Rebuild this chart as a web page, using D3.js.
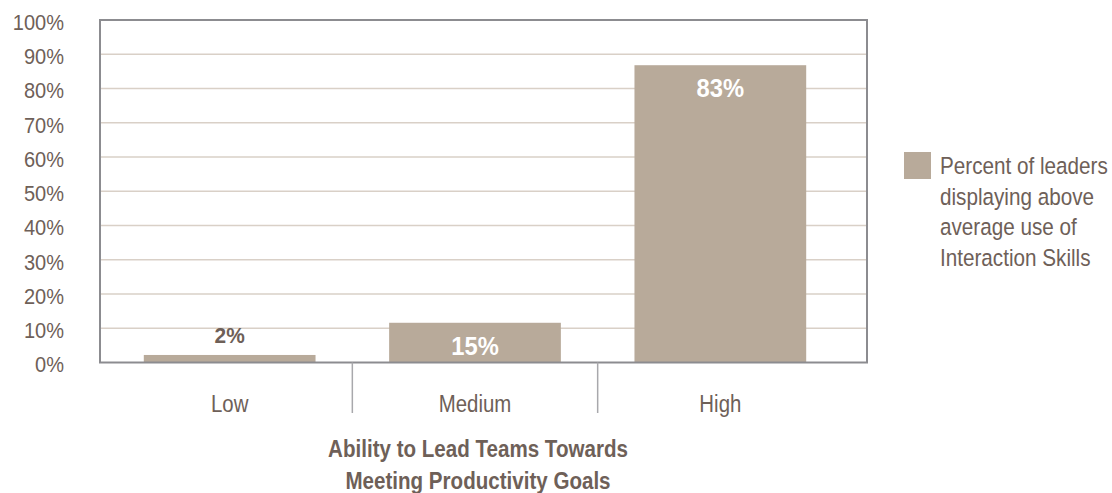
<!DOCTYPE html>
<html>
<head>
<meta charset="utf-8">
<script src="https://cdn.jsdelivr.net/npm/d3@7"></script>
<style>
	body { margin: 0; background: #fff; }
	text { font-family: "Liberation Sans", Arial, sans-serif; }
</style>
</head>
<body>
<div class="canva"></div>
<script>
// data
const categories = ["Low", "Medium", "High"];
const barValues = [2.2, 11.6, 86.8]; // bar heights as drawn
const barLabels = ["2%", "15%", "83%"]; // labels as printed
const yTicks = [0, 10, 20, 30, 40, 50, 60, 70, 80, 90, 100];
const legendLines = ["Percent of leaders", "displaying above", "average use of", "Interaction Skills"];
const titleLines = ["Ability to Lead Teams Towards", "Meeting Productivity Goals"];

const textColor = "#6e6058";
const barColor = "#b8aa9a";
const axisColor = "#8c8c90";
const gridColor = "#d9d0c7";

const svg = d3.select(".canva")
	.append("svg")
	.attr("width", 1112)
	.attr("height", 493);

const frame = { left: 100, right: 867, top: 20, bottom: 362.5 };

const y = d3.scaleLinear().domain([0, 100]).range([frame.bottom, frame.top]);
const x = d3.scaleBand().domain(categories).range([107, 843]).paddingInner(0.3).paddingOuter(0.15);

// the source font is a narrow one, so squeeze text horizontally
function place(sel, fx, fy, sx) {
	sel.attr("transform", (d, i) => `translate(${fx(d, i)},${fy(d, i)}) scale(${sx},1)`);
}

// gridlines
svg.append("g")
	.selectAll("line")
	.data(yTicks.filter((d) => d > 0 && d < 100))
	.enter()
	.append("line")
	.attr("x1", frame.left)
	.attr("x2", frame.right)
	.attr("y1", (d) => y(d))
	.attr("y2", (d) => y(d))
	.attr("stroke", gridColor)
	.attr("stroke-width", 1.5);

// y tick labels
svg.append("g")
	.selectAll("text")
	.data(yTicks)
	.enter()
	.append("text")
	.call(place, () => 64, (d) => y(d) + 2, 0.89)
	.attr("dy", "0.35em")
	.attr("text-anchor", "end")
	.attr("font-size", 22.5)
	.attr("fill", textColor)
	.text((d) => d + "%");

// bars
svg.append("g")
	.selectAll("rect")
	.data(barValues)
	.enter()
	.append("rect")
	.attr("x", (d, i) => x(categories[i]))
	.attr("y", (d) => y(d))
	.attr("width", x.bandwidth())
	.attr("height", (d) => y(0) - y(d))
	.attr("fill", barColor);

// value labels: above the short bar, inside the others
svg.append("g")
	.selectAll("text")
	.data(barValues)
	.enter()
	.append("text")
	.call(
		place,
		(d, i) => x(categories[i]) + x.bandwidth() / 2,
		(d) => (d < 5 ? y(d) - 20 : y(d) + 23),
		0.95
	)
	.attr("dy", "0.35em")
	.attr("text-anchor", "middle")
	.attr("font-size", (d) => (d < 5 ? 22 : 25))
	.attr("font-weight", "bold")
	.attr("fill", (d) => (d < 5 ? textColor : "#fff"))
	.text((d, i) => barLabels[i]);

// frame
svg.append("rect")
	.attr("x", frame.left)
	.attr("y", frame.top)
	.attr("width", frame.right - frame.left)
	.attr("height", frame.bottom - frame.top)
	.attr("fill", "none")
	.attr("stroke", axisColor)
	.attr("stroke-width", 2);

// category separators
const step = x.step();
svg.append("g")
	.selectAll("line")
	.data(categories.slice(1))
	.enter()
	.append("line")
	.attr("x1", (d) => x(d) - (step - x.bandwidth()) / 2)
	.attr("x2", (d) => x(d) - (step - x.bandwidth()) / 2)
	.attr("y1", frame.bottom)
	.attr("y2", 413)
	.attr("stroke", "#a8a8ac")
	.attr("stroke-width", 1.5);

// category labels
svg.append("g")
	.selectAll("text")
	.data(categories)
	.enter()
	.append("text")
	.call(place, (d) => x(d) + x.bandwidth() / 2, () => 404, 0.85)
	.attr("dy", "0.35em")
	.attr("text-anchor", "middle")
	.attr("font-size", 24)
	.attr("fill", textColor)
	.text((d) => d);

// axis title
svg.append("g")
	.selectAll("text")
	.data(titleLines)
	.enter()
	.append("text")
	.call(place, () => 478, (d, i) => 448 + i * 32, 0.84)
	.attr("dy", "0.35em")
	.attr("text-anchor", "middle")
	.attr("font-size", 24.5)
	.attr("font-weight", "bold")
	.attr("fill", textColor)
	.text((d) => d);

// legend
svg.append("rect")
	.attr("x", 904)
	.attr("y", 152)
	.attr("width", 27)
	.attr("height", 27)
	.attr("fill", barColor);

svg.append("g")
	.selectAll("text")
	.data(legendLines)
	.enter()
	.append("text")
	.call(place, () => 940, (d, i) => 166 + i * 30.5, 0.88)
	.attr("dy", "0.35em")
	.attr("font-size", 23.5)
	.attr("fill", textColor)
	.text((d) => d);
</script>
</body>
</html>
